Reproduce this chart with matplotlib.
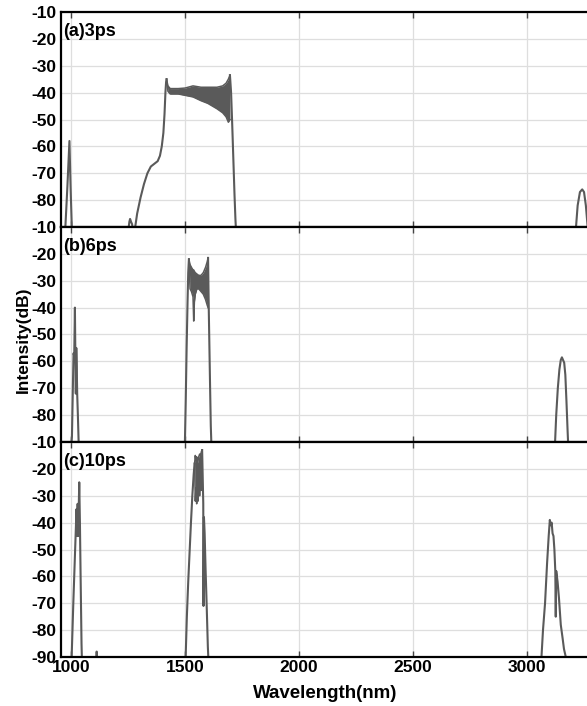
import matplotlib
matplotlib.use("Agg")
import matplotlib.pyplot as plt

plt.rcParams['font.family'] = ['Liberation Sans', 'DejaVu Sans']
plt.rcParams['font.weight'] = 'bold'

# ---------------- data ----------------
panel_labels = ["(a)3ps", "(b)6ps", "(c)10ps"]
x_ticks = [1000, 1500, 2000, 2500, 3000]
y_ticks_upper = [-80, -70, -60, -50, -40, -30, -20, -10]
y_ticks_lower = [-90, -80, -70, -60, -50, -40, -30, -20, -10]

# panel (a) 3 ps
a_spike_wl = [974, 984, 993, 998, 1004]
a_spike_db = [-92, -75, -58, -75, -92]
a_bump_wl = [1250, 1256, 1259, 1263, 1268, 1272]
a_bump_db = [-92, -88, -87, -88, -89, -92]
a_rise_wl = [1278, 1290, 1305, 1320, 1335, 1350, 1365, 1380, 1390, 1398, 1405, 1410, 1414, 1417, 1419]
a_rise_db = [-92, -85, -79, -74, -70, -67.5, -66.5, -65.5, -63.5, -60, -55, -48, -40, -36, -35]
a_band_wl = [1419, 1425, 1435, 1450, 1470, 1500, 1535, 1570, 1600, 1640, 1665, 1680, 1690, 1697]
a_band_hi = [-35, -37.5, -38.5, -38.5, -38.5, -38.3, -37.5, -38, -38, -38, -37.5, -36.5, -35, -33.5]
a_band_lo = [-35, -39.5, -40.5, -40.5, -40.5, -41, -41.6, -43, -44, -46, -47.5, -49, -51, -50]
a_fall_wl = [1697, 1702, 1707, 1712, 1717, 1721, 1724]
a_fall_db = [-33.5, -40, -52, -65, -78, -87, -92]
a_ir_wl = [3213, 3222, 3232, 3242, 3250, 3258, 3266]
a_ir_db = [-92, -82, -77, -76, -77, -82, -90]

# panel (b) 6 ps
b_spike_wl = [1000, 1004, 1008, 1011, 1014, 1017, 1019, 1021, 1023, 1025, 1027, 1030, 1034]
b_spike_db = [-92, -88, -70, -57, -58, -40, -58, -72, -55, -62, -72, -80, -92]
b_rise_wl = [1499, 1503, 1507, 1511, 1514, 1517]
b_rise_db = [-92, -75, -55, -38, -27, -22]
b_band_wl = [1517, 1522, 1528, 1535, 1538, 1541, 1545, 1552, 1560, 1570, 1580, 1590, 1597, 1601]
b_band_hi = [-22, -24, -25, -26, -26, -26.5, -27, -27.5, -28, -28, -27, -25, -23, -21.5]
b_band_lo = [-22, -33, -34, -36, -45, -38, -35, -33, -33, -34, -35, -37, -39, -40]
b_fall_wl = [1601, 1604, 1607, 1610, 1613, 1616]
b_fall_db = [-21.5, -40, -55, -70, -84, -92]
b_ir_wl = [3122, 3128, 3135, 3142, 3148, 3153, 3158, 3163, 3168, 3173, 3178, 3181]
b_ir_db = [-92, -80, -70, -63, -59.5, -58.5, -59.5, -60.5, -65, -75, -86, -92]

# panel (c) 10 ps
c_spike_wl = [1002, 1010, 1018, 1024, 1027, 1029, 1031, 1033, 1036, 1039, 1042, 1046, 1048]
c_spike_db = [-92, -70, -50, -35, -45, -33, -45, -38, -25, -40, -60, -85, -92]
c_tiny_wl = [1111, 1112, 1113, 1114]
c_tiny_db = [-92, -88, -88, -92]
c_rise_wl = [1502, 1508, 1514, 1520, 1526, 1532, 1538, 1542]
c_rise_db = [-92, -75, -62, -51, -40, -30, -22, -18]
c_band_wl = [1542, 1545, 1548, 1551, 1554, 1557, 1560, 1564, 1568, 1572, 1575]
c_band_hi = [-18, -15, -17, -15.5, -18, -17, -15.5, -14.5, -15, -13.5, -13]
c_band_lo = [-18, -32, -27, -33, -28, -32, -27, -30, -25, -28, -18]
c_fall_wl = [1575, 1578, 1580, 1581, 1583, 1586, 1590, 1595, 1600, 1603]
c_fall_db = [-13, -25, -33, -71, -38, -44, -57, -71, -86, -92]
c_ir_wl = [3062, 3070, 3079, 3088, 3095, 3100, 3104, 3108, 3112, 3116, 3120, 3124, 3126,
           3128, 3134, 3140, 3148, 3156, 3162, 3170, 3178]
c_ir_db = [-92, -80, -70, -55, -45, -39, -41, -40, -44, -45, -50, -58, -75,
           -58, -62, -68, -78, -83, -87, -90, -92]

panels = [
    dict(label=panel_labels[0],
         lines=[(a_spike_wl, a_spike_db), (a_bump_wl, a_bump_db), (a_rise_wl, a_rise_db),
                (a_fall_wl, a_fall_db), (a_ir_wl, a_ir_db)],
         band=(a_band_wl, a_band_hi, a_band_lo), yt=y_ticks_upper),
    dict(label=panel_labels[1],
         lines=[(b_spike_wl, b_spike_db), (b_rise_wl, b_rise_db),
                (b_fall_wl, b_fall_db), (b_ir_wl, b_ir_db)],
         band=(b_band_wl, b_band_hi, b_band_lo), yt=y_ticks_upper),
    dict(label=panel_labels[2],
         lines=[(c_spike_wl, c_spike_db), (c_tiny_wl, c_tiny_db), (c_rise_wl, c_rise_db),
                (c_fall_wl, c_fall_db), (c_ir_wl, c_ir_db)],
         band=(c_band_wl, c_band_hi, c_band_lo), yt=y_ticks_lower),
]

# ---------------- figure ----------------
W, H = 587, 706
fig = plt.figure(figsize=(W / 100, H / 100), dpi=100)

x_left_px = 61
xmin, xmax = 956, 3420
px_per_nm = 0.228
ax_w_px = (xmax - xmin) * px_per_nm
tops = [12, 227, 442]
ph = 215
line_col = '#5a5a5a'

for i, p in enumerate(panels):
    top = tops[i]
    ax = fig.add_axes([x_left_px / W, 1 - (top + ph) / H, ax_w_px / W, ph / H])
    ax.set_xlim(xmin, xmax)
    ax.set_ylim(-90, -10)
    for wl, db in p['lines']:
        ax.plot(wl, db, color=line_col, lw=1.5)
    bw, bh, bl = p['band']
    ax.fill_between(bw, bl, bh, color=line_col, lw=0)
    ax.plot(bw, bh, color=line_col, lw=1.1)
    ax.plot(bw, bl, color=line_col, lw=1.1)

    ax.set_xticks(x_ticks)
    ax.set_yticks(p['yt'])
    ax.set_yticklabels([str(v) for v in p['yt']], fontsize=12.5, fontweight='bold')
    if i < 2:
        ax.set_xticklabels([])
    else:
        ax.set_xticklabels([str(v) for v in x_ticks], fontsize=12.5, fontweight='bold')
    ax.tick_params(axis='x', direction='in', top=True, bottom=True, length=4, width=1.0,
                   color='#444444', pad=2)
    ax.tick_params(axis='y', direction='in', left=True, right=False, length=0, pad=3)
    ax.grid(True, color='#dedede', lw=0.9)
    ax.set_axisbelow(True)
    for s in ax.spines.values():
        s.set_linewidth(1.6)
        s.set_color('black')
    ax.text(0.004, 0.89, p['label'], transform=ax.transAxes, fontsize=13,
            fontweight='bold', va='baseline', ha='left')

fig.text(23 / W, 1 - 340 / H, 'Intensity(dB)', rotation=90, fontsize=12.5,
         fontweight='bold', ha='center', va='center')
fig.text(325 / W, 1 - 693 / H, 'Wavelength(nm)', fontsize=13.5,
         fontweight='bold', ha='center', va='center')

fig.savefig('out.png', dpi=100)
